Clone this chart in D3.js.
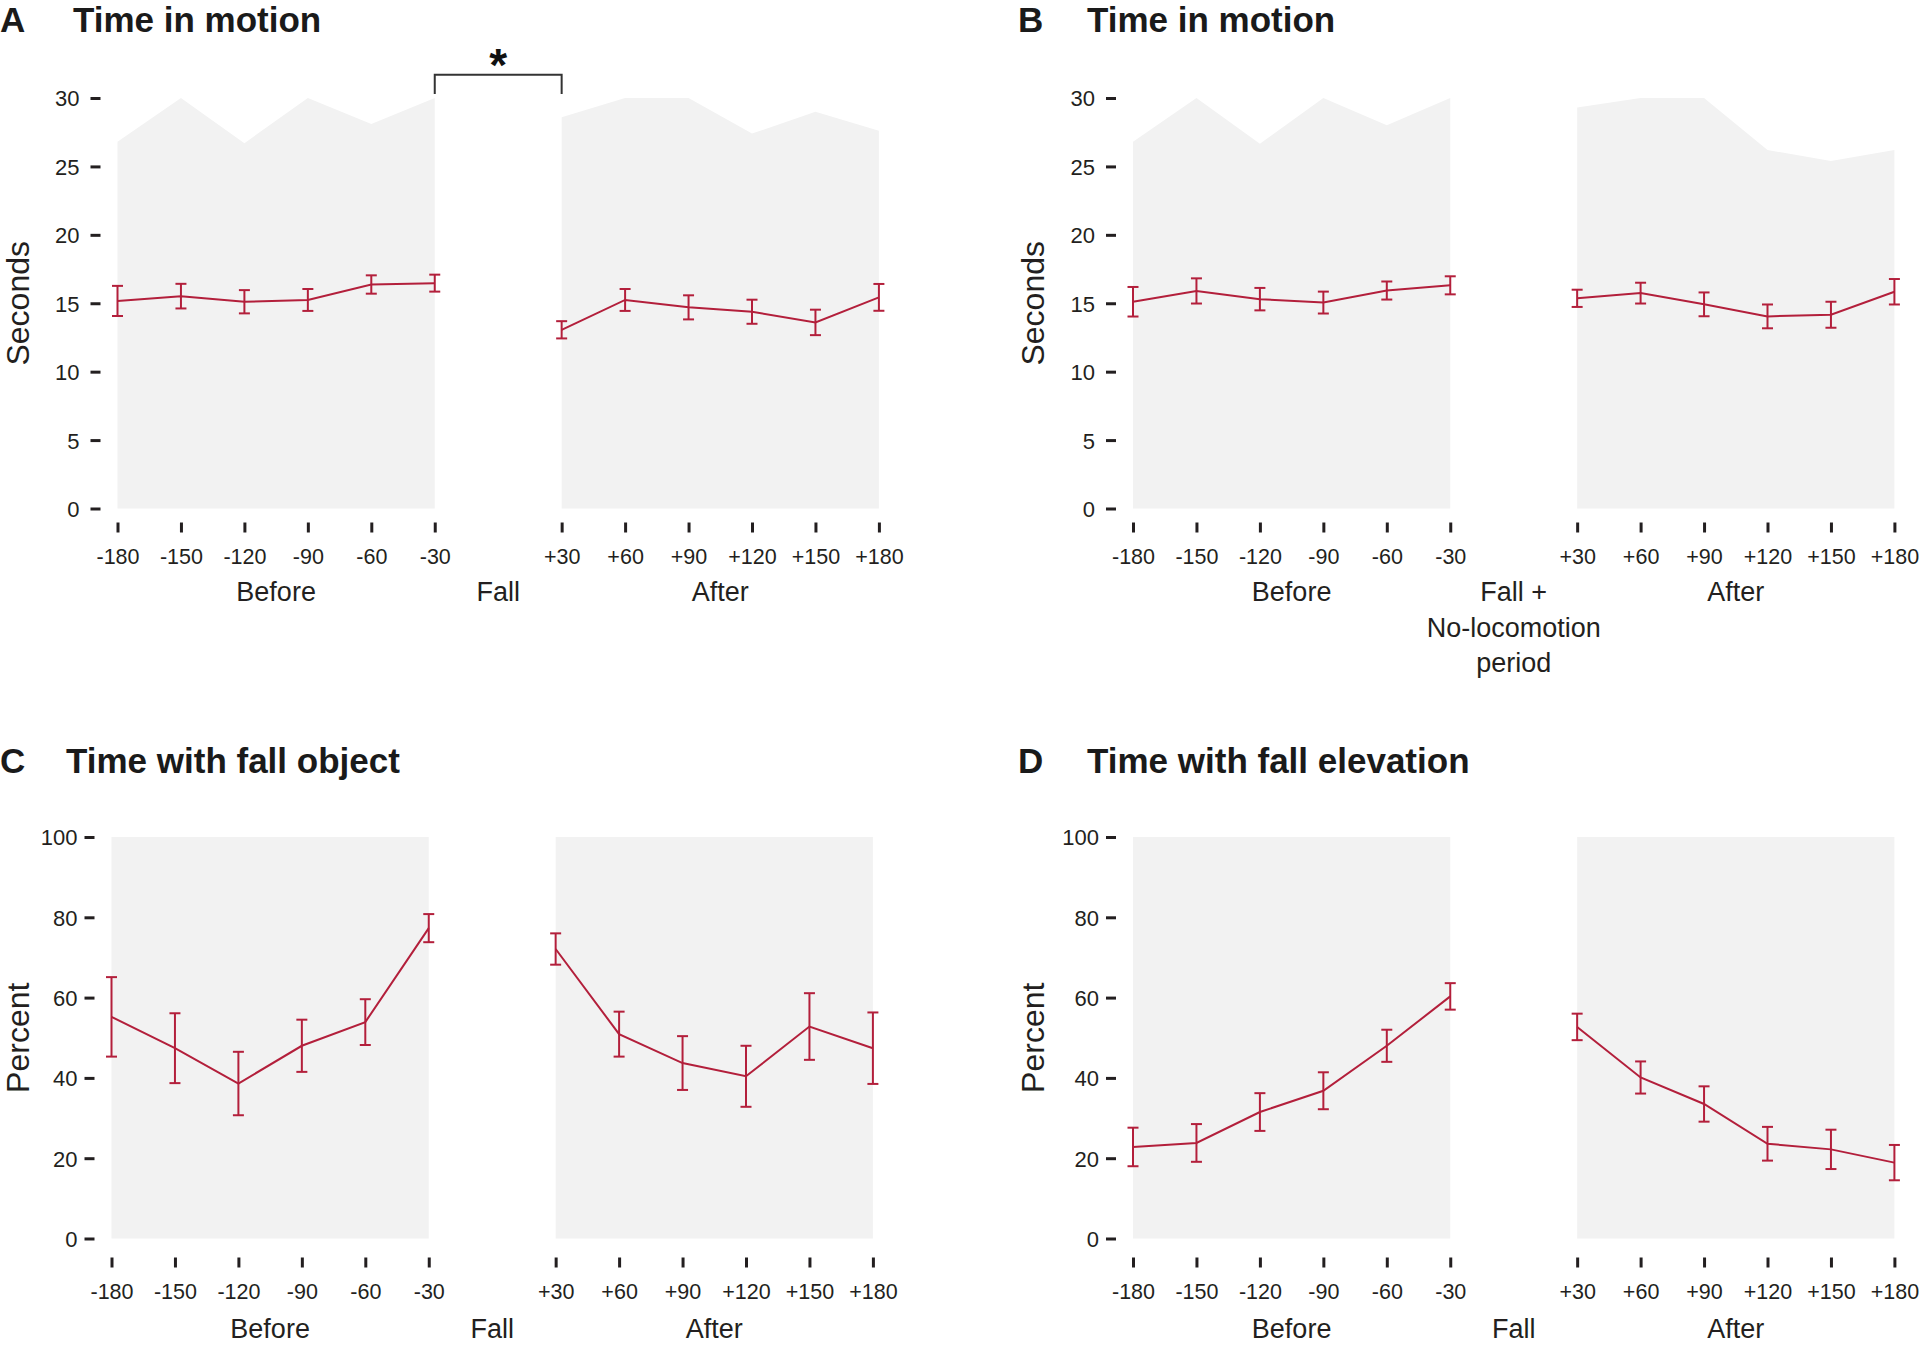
<!DOCTYPE html>
<html><head><meta charset="utf-8">
<script src="https://cdn.jsdelivr.net/npm/d3@7"></script>
<style>
body{margin:0;background:#fff;}
svg{display:block;font-family:"Liberation Sans",Arial,Helvetica,sans-serif;}
</style>
</head><body>
<svg id="chart" width="1920" height="1347"></svg>
<script>
// ---------------- DATA ----------------
const categories = ["-180","-150","-120","-90","-60","-30","+30","+60","+90","+120","+150","+180"];
const groupLabels = ["Before","After"];
const secondsTicks = [0,5,10,15,20,25,30];
const percentTicks = [0,20,40,60,80,100];

// Panel A: Time in motion (seconds)
const aMean = [15.17,15.52,15.11,15.24,16.37,16.47, 13.06,15.24,14.70,14.38,13.60,15.43];
const aErr  = [1.10,0.90,0.85,0.80,0.67,0.62, 0.63,0.80,0.88,0.88,0.93,0.98];
const aMax  = [26.8,30.0,26.7,30.0,28.1,30.0, 28.6,30.0,30.0,27.4,29.0,27.6];

// Panel B: Time in motion (seconds), fall + no-locomotion period removed
const bMean = [15.11,15.90,15.30,15.05,15.93,16.31, 15.36,15.74,14.92,14.04,14.16,15.84];
const bErr  = [1.08,0.92,0.82,0.80,0.66,0.66, 0.63,0.76,0.87,0.87,0.95,0.93];
const bMax  = [26.8,30.0,26.65,30.0,28.0,30.0, 29.3,30.0,30.0,26.2,25.4,26.2];

// Panel C: Time with fall object (percent)
const cMean = [55.2,47.4,38.6,48.0,53.9,77.3, 72.1,50.9,43.7,40.4,52.8,47.4];
const cErr  = [9.9,8.7,7.9,6.5,5.7,3.5, 3.9,5.6,6.7,7.6,8.3,8.9];

// Panel D: Time with fall elevation (percent)
const dMean = [22.8,23.8,31.5,36.8,48.0,60.3, 52.7,40.1,33.5,23.6,22.2,18.9];
const dErr  = [4.8,4.7,4.7,4.6,4.0,3.3, 3.3,4.0,4.4,4.2,4.9,4.4];

// Significance annotation (panel A, between -30 and +30)
const sigBracket = {from:"-30", to:"+30", level:31.7, legEnd:30.3, label:"*"};

// ---------------- STYLE ----------------
const RED = "#b31f3b";
const GRAY = "#f2f2f2";
const INK = "#231f20";
const STEP = 63.45;

const slots = categories.slice(0,6).concat(["gap"], categories.slice(6));

const panels = [
  {id:"A", title:"Time in motion", titleX:73, letterX:0, baseline:32,
   left:117.5, y0:508.5, y1:98, domain:[0,30], ticks:secondsTicks, yTitle:"Seconds", yTitleX:17,
   mean:aMean, err:aErr, max:aMax, mid:["Fall"], tickPad:11,
   xTick:[14,24], xLab:48, grp:83, sig:sigBracket},
  {id:"B", title:"Time in motion", titleX:1087, letterX:1018, baseline:32,
   left:1133, y0:508.5, y1:98, domain:[0,30], ticks:secondsTicks, yTitle:"Seconds", yTitleX:1032,
   mean:bMean, err:bErr, max:bMax, mid:["Fall +","No-locomotion","period"], tickPad:11,
   xTick:[14,24], xLab:48, grp:83},
  {id:"C", title:"Time with fall object", titleX:66, letterX:0, baseline:773,
   left:111.5, y0:1238.5, y1:837, domain:[0,100], ticks:percentTicks, yTitle:"Percent", yTitleX:17,
   mean:cMean, err:cErr, max:null, mid:["Fall"], tickPad:7,
   xTick:[19,29], xLab:53, grp:90},
  {id:"D", title:"Time with fall elevation", titleX:1087, letterX:1018, baseline:773,
   left:1133, y0:1238.5, y1:837, domain:[0,100], ticks:percentTicks, yTitle:"Percent", yTitleX:1032,
   mean:dMean, err:dErr, max:null, mid:["Fall"], tickPad:7,
   xTick:[19,29], xLab:53, grp:90}
];

const svg = d3.select("#chart");
svg.append("rect").attr("width",1920).attr("height",1347).attr("fill","#fff");

panels.forEach(p => {
  const g = svg.append("g");
  const x = d3.scalePoint().domain(slots).range([p.left, p.left + STEP*(slots.length-1)]);
  const y = d3.scaleLinear().domain(p.domain).range([p.y0, p.y1]);

  const rows = categories.map((c,i) => ({c, m:p.mean[i], e:p.err[i], mx: p.max ? p.max[i] : p.domain[1]}));
  const segs = [rows.slice(0,6), rows.slice(6)];

  // gray background areas
  const area = d3.area().x(d => x(d.c)).y0(y(p.domain[0])).y1(d => y(d.mx));
  segs.forEach(s => g.append("path").attr("d", area(s)).attr("fill", GRAY));

  // y axis
  const yAx = d3.axisLeft(y).tickValues(p.ticks).tickSize(10).tickPadding(p.tickPad);
  const ya = g.append("g").attr("transform", `translate(${p.left-17},0)`).call(yAx);
  ya.select(".domain").remove();
  ya.selectAll(".tick line").attr("stroke", INK).attr("stroke-width", 3);
  ya.selectAll(".tick text").attr("fill", INK).attr("font-size", 22)
    .attr("font-family", "Liberation Sans, Arial, sans-serif").attr("dy","0.36em");

  // x axis
  const xAx = d3.axisBottom(x).tickValues(categories).tickSize(p.xTick[1]-p.xTick[0]).tickPadding(0);
  const xa = g.append("g").attr("transform", `translate(0,${p.y0 + p.xTick[0]})`).call(xAx);
  xa.select(".domain").remove();
  xa.selectAll(".tick line").attr("stroke", INK).attr("stroke-width", 3);
  xa.selectAll(".tick text").attr("fill", INK).attr("font-size", 21.5)
    .attr("font-family", "Liberation Sans, Arial, sans-serif")
    .attr("y", p.xLab - p.xTick[0]).attr("dy","0.36em");

  // group labels
  const grpY = p.y0 + p.grp;
  const before = (x(categories[0]) + x(categories[5]))/2;
  const after = (x(categories[6]) + x(categories[11]))/2;
  [[groupLabels[0], before],[groupLabels[1], after]].forEach(([t,cx]) => {
    g.append("text").attr("x", cx).attr("y", grpY).attr("dy","0.36em")
      .attr("text-anchor","middle").attr("font-size",27).attr("fill",INK).text(t);
  });
  p.mid.forEach((t,i) => {
    g.append("text").attr("x", x("gap")).attr("y", grpY + i*35.5).attr("dy","0.36em")
      .attr("text-anchor","middle").attr("font-size",27).attr("fill",INK).text(t);
  });

  // y title
  const yMid = (p.y0 + p.y1)/2;
  g.append("text").attr("transform", `translate(${p.yTitleX},${yMid}) rotate(-90)`)
    .attr("dy","0.36em").attr("text-anchor","middle").attr("font-size",32).attr("fill",INK)
    .text(p.yTitle);

  // panel title
  g.append("text").attr("x", p.letterX).attr("y", p.baseline).attr("font-size",35)
    .attr("font-weight","bold").attr("fill","#1a1a1a").text(p.id);
  g.append("text").attr("x", p.titleX).attr("y", p.baseline).attr("font-size",35)
    .attr("font-weight","bold").attr("fill","#1a1a1a").text(p.title);

  // line
  const line = d3.line().x(d => x(d.c)).y(d => y(d.m));
  segs.forEach(s => g.append("path").attr("d", line(s)).attr("fill","none")
    .attr("stroke", RED).attr("stroke-width", 2));

  // error bars
  const eb = g.append("g").attr("stroke", RED).attr("stroke-width", 2).attr("fill","none");
  rows.forEach(d => {
    const cx = x(d.c), t = y(d.m + d.e), b = y(d.m - d.e);
    eb.append("line").attr("x1",cx).attr("x2",cx).attr("y1",t).attr("y2",b);
    eb.append("line").attr("x1",cx-5.5).attr("x2",cx+5.5).attr("y1",t).attr("y2",t);
    eb.append("line").attr("x1",cx-5.5).attr("x2",cx+5.5).attr("y1",b).attr("y2",b);
  });

  // significance bracket
  if (p.sig) {
    const s = p.sig;
    const x1 = x(s.from), x2 = x(s.to), yl = y(s.level), ye = y(s.legEnd);
    g.append("path").attr("d", `M${x1},${ye}V${yl}H${x2}V${ye}`)
      .attr("fill","none").attr("stroke","#333").attr("stroke-width",2);
    g.append("text").attr("x", (x1+x2)/2).attr("y", yl + 6).attr("text-anchor","middle")
      .attr("font-size",46).attr("font-weight","bold").attr("fill","#111").text(s.label);
  }
});
</script>
</body></html>
